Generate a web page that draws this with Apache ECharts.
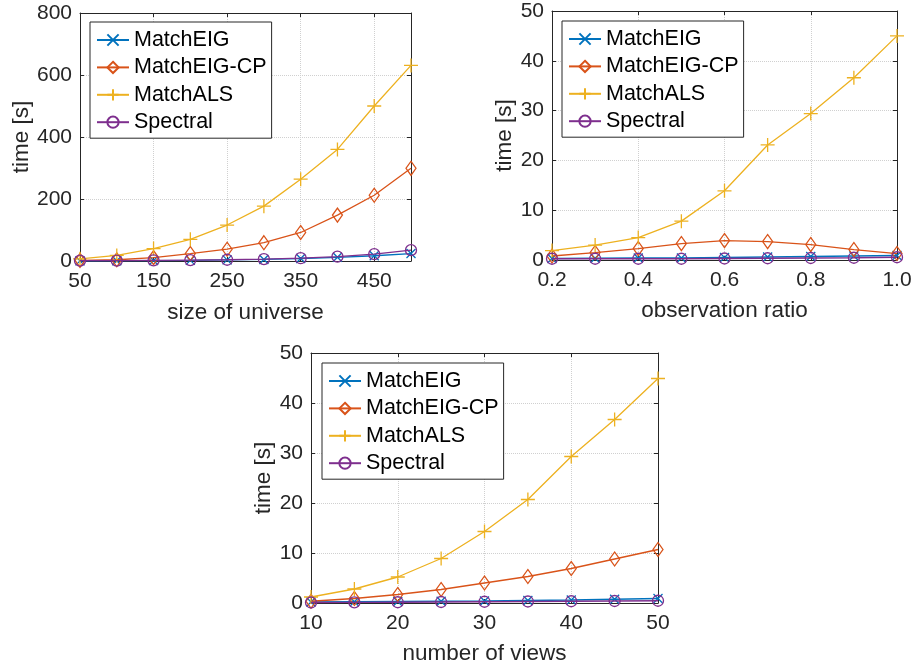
<!DOCTYPE html>
<html>
<head>
<meta charset="utf-8">
<script src="https://cdn.jsdelivr.net/npm/echarts@6/dist/echarts.min.js"></script>
<style>html,body{margin:0;padding:0;background:#fff}#c{width:915px;height:670px}</style>
</head>
<body>
<div id="c"></div>
<script>
// ---- data ----
const names = ['MatchEIG', 'MatchEIG-CP', 'MatchALS', 'Spectral'];

const x1 = [50, 100, 150, 200, 250, 300, 350, 400, 450, 500];
const eig1 = [0.5, 1, 1.5, 2, 3.5, 5, 8, 12, 17, 24];
const cp1 = [2, 4, 11, 24, 38, 59, 92, 148, 212, 299];
const als1 = [7, 18, 40, 70, 116, 177, 264, 360, 500, 631];
const spec1 = [1, 1, 2, 3, 4, 6, 9, 14, 22, 35];

const x2 = [0.2, 0.3, 0.4, 0.5, 0.6, 0.7, 0.8, 0.9, 1.0];
const eig2 = [0.3, 0.35, 0.4, 0.4, 0.5, 0.6, 0.7, 0.8, 0.9];
const cp2 = [0.8, 1.5, 2.3, 3.3, 3.9, 3.7, 3.1, 2.1, 1.3];
const als2 = [1.9, 3.0, 4.5, 7.8, 13.9, 23.1, 29.4, 36.6, 45.0];
const spec2 = [0.25, 0.25, 0.25, 0.25, 0.3, 0.35, 0.4, 0.45, 0.55];

const x3 = [10, 15, 20, 25, 30, 35, 40, 45, 50];
const eig3 = [0.2, 0.25, 0.3, 0.35, 0.4, 0.5, 0.6, 0.75, 0.9];
const cp3 = [0.35, 0.9, 1.7, 2.7, 4.0, 5.3, 6.9, 8.8, 10.7];
const als3 = [1.2, 2.8, 5.2, 8.9, 14.3, 20.7, 29.3, 36.7, 44.9];
const spec3 = [0.1, 0.12, 0.15, 0.2, 0.25, 0.3, 0.35, 0.4, 0.45];

const xTitles = ['size of universe', 'observation ratio', 'number of views'];
const yTitle = 'time [s]';

// ---- styling ----
const fam = 'Liberation Sans, Arial, Helvetica, sans-serif';
const txt = '#262626';
const colors = ['#0072BD', '#D95319', '#EDB120', '#7E2F8E'];
const symbols = [
  'path://M0,0L10,10M0,10L10,0',
  'path://M5,0L10,7L5,14L0,7Z',
  'path://M5,0L5,10M0,5L10,5',
  'path://M10,5A5,5 0 1 1 0,5A5,5 0 1 1 10,5Z'
];
const symSizes = [[9, 9], [10, 14], [14, 14], [11, 11]];

const grids = [
  {left: 80, top: 13, width: 331, height: 248},
  {left: 552, top: 11, width: 345, height: 249},
  {left: 311, top: 353, width: 347, height: 250}
];
const xCfg = [
  {min: 50, max: 500, interval: 100, fmt: v => String(v), showMax: false, gap: 40},
  {min: 0.2, max: 1.0, interval: 0.2, fmt: v => Number(v).toFixed(1), showMax: true, gap: 39},
  {min: 10, max: 50, interval: 10, fmt: v => String(v), showMax: true, gap: 39}
];
const yCfg = [
  {min: 0, max: 800, interval: 200, gap: 45},
  {min: 0, max: 50, interval: 10, gap: 35},
  {min: 0, max: 50, interval: 10, gap: 36}
];
const legendPos = [
  {left: 90, top: 22},
  {left: 562, top: 21},
  {left: 322, top: 363}
];
const dataSets = [
  {x: x1, ys: [eig1, cp1, als1, spec1]},
  {x: x2, ys: [eig2, cp2, als2, spec2]},
  {x: x3, ys: [eig3, cp3, als3, spec3]}
];

const xAxis = [], yAxis = [], series = [], legend = [];
grids.forEach((g, i) => {
  const xc = xCfg[i], yc = yCfg[i];
  const lineStyle = {color: txt, width: 1};
  xAxis.push({
    gridIndex: i, type: 'value', min: xc.min, max: xc.max, interval: xc.interval,
    position: 'bottom',
    name: xTitles[i], nameLocation: 'middle', nameGap: xc.gap,
    nameTextStyle: {fontFamily: fam, fontSize: 22.5, color: txt},
    axisLine: {show: true, onZero: false, lineStyle},
    axisTick: {show: true, inside: true, length: 4, lineStyle},
    axisLabel: {fontFamily: fam, fontSize: 21, color: txt, margin: 10, formatter: xc.fmt, showMaxLabel: xc.showMax},
    splitLine: {show: true, lineStyle: {type: 'dotted', color: '#d0d0d0', width: 1}}
  });
  xAxis.push({
    gridIndex: i, type: 'value', min: xc.min, max: xc.max, interval: xc.interval,
    position: 'top',
    axisLine: {show: true, onZero: false, lineStyle},
    axisTick: {show: true, inside: true, length: 4, lineStyle},
    axisLabel: {show: false}, splitLine: {show: false}
  });
  yAxis.push({
    gridIndex: i, type: 'value', min: yc.min, max: yc.max, interval: yc.interval,
    position: 'left',
    name: yTitle, nameLocation: 'middle', nameGap: yc.gap, nameRotate: 90,
    nameTextStyle: {fontFamily: fam, fontSize: 22.5, color: txt},
    axisLine: {show: true, onZero: false, lineStyle},
    axisTick: {show: true, inside: true, length: 4, lineStyle},
    axisLabel: {fontFamily: fam, fontSize: 21, color: txt, margin: 8},
    splitLine: {show: true, lineStyle: {type: 'dotted', color: '#d0d0d0', width: 1}}
  });
  yAxis.push({
    gridIndex: i, type: 'value', min: yc.min, max: yc.max, interval: yc.interval,
    position: 'right',
    axisLine: {show: true, onZero: false, lineStyle},
    axisTick: {show: true, inside: true, length: 4, lineStyle},
    axisLabel: {show: false}, splitLine: {show: false}
  });
  const ds = dataSets[i];
  names.forEach((n, k) => {
    series.push({
      name: n, type: 'line', xAxisIndex: 2 * i, yAxisIndex: 2 * i,
      data: ds.x.map((xv, j) => [xv, ds.ys[k][j]]),
      symbol: symbols[k], symbolSize: symSizes[k], showAllSymbol: true,
      clip: false, animation: false, z: 2 + k,
      lineStyle: {color: colors[k], width: 1.3},
      itemStyle: {color: 'rgba(0,0,0,0)', borderColor: colors[k], borderWidth: 1.3}
    });
  });
  legend.push({
    orient: 'vertical', left: legendPos[i].left, top: legendPos[i].top,
    data: names, selectedMode: false,
    backgroundColor: '#fff', borderColor: txt, borderWidth: 1,
    padding: [7, 5, 5, 6], itemWidth: 32, itemHeight: 14, itemGap: 5.4,
    textStyle: {fontFamily: fam, fontSize: 21.5, color: '#000', lineHeight: 22}
  });
});

const chart = echarts.init(document.getElementById('c'), null, {renderer: 'canvas'});
chart.setOption({
  backgroundColor: '#fff',
  animation: false,
  grid: grids.map(g => Object.assign({containLabel: false}, g)),
  xAxis, yAxis, series, legend
});
</script>
</body>
</html>
